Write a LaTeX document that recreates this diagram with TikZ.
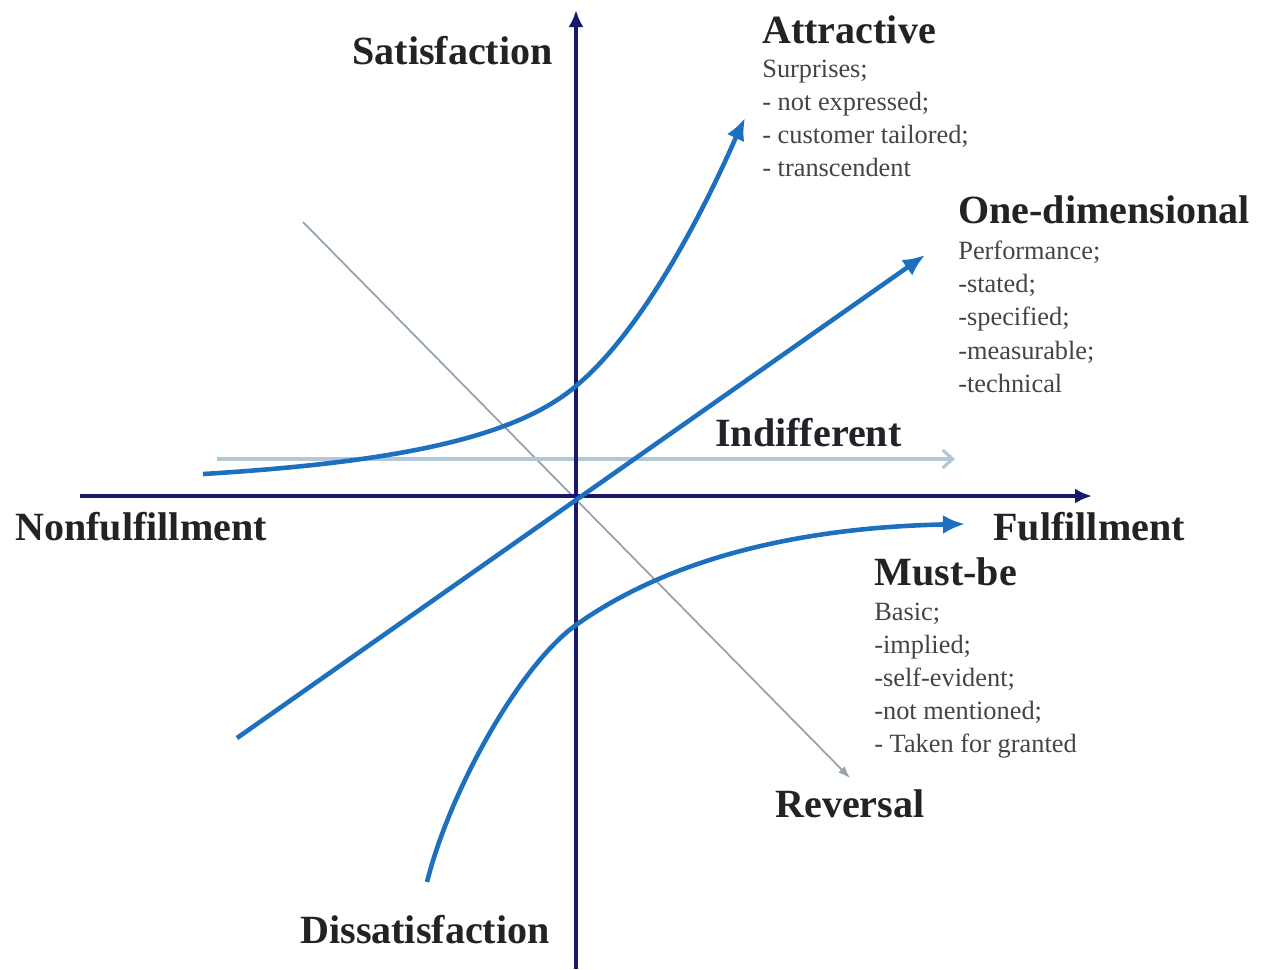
\documentclass[tikz,border=0pt]{standalone}
\usepackage{fontspec}
\setmainfont{Liberation Serif}
\usetikzlibrary{arrows.meta}
\definecolor{myNavy}{RGB}{24,24,110}
\definecolor{myBlue}{RGB}{28,112,190}
\definecolor{myPaleBlue}{RGB}{178,200,214}
\definecolor{myGray}{RGB}{150,162,172}
\definecolor{myText}{RGB}{35,35,35}

\begin{document}
\begin{tikzpicture}[%
    x=0.2mm, y=-0.2mm,
    every node/.style={
        inner sep=0pt,
        text=myText,
    },
    title/.style={font=\fontsize{22.8}{26}\selectfont\bfseries, anchor=base west},
    notes/.style={font=\fontsize{15}{18.8}\selectfont, align=left, anchor=north west, text=myText!85},
    axis/.style={myNavy, line width=2.8pt, -{Latex[length=3.4mm,width=3mm]}},
    curve/.style={myBlue, line width=2.6pt, -{Latex[length=4.4mm,width=3.8mm]}},
]
\useasboundingbox (0,0) rectangle (1271,969);

% end points of axes and curves
\coordinate (origin) at (576,496);
\coordinate (xStart) at (80,496);
\coordinate (xEnd) at (1092,496);
\coordinate (yStart) at (576,969);
\coordinate (yEnd) at (576,10);
\coordinate (atStart) at (203,474);
\coordinate (atMid) at (576,386);
\coordinate (atEnd) at (745,118);
\coordinate (odStart) at (237,738);
\coordinate (odEnd) at (925,255);
\coordinate (mbStart) at (427,882);
\coordinate (mbMid) at (576,625);
\coordinate (mbEnd) at (965,524);
\coordinate (inStart) at (217,459);
\coordinate (inEnd) at (955,459);
\coordinate (reStart) at (303,222);
\coordinate (reEnd) at (850,778);

% draw thin reference lines
\draw[myGray, line width=1pt, -{Latex[length=2.4mm,width=1.8mm]}] (reStart) -- (reEnd);
\draw[myPaleBlue, line width=1.8pt, -{Straight Barb[length=2mm,width=3.6mm]}] (inStart) -- (inEnd);

% draw axes
\draw[axis] (xStart) -- (xEnd);
\draw[axis] (yStart) -- (yEnd);

% draw the three curves
\draw[curve] (atStart) .. controls (400,462) and (516,437) .. (atMid)
    .. controls (660,316) and (730,150) .. (atEnd);
\draw[curve] (odStart) -- (odEnd);
\draw[curve] (mbStart) .. controls (450,790) and (520,665) .. (mbMid)
    .. controls (680,551) and (820,527) .. (mbEnd);

% place axis labels
\node[title] (satisfaction) at (352,64) {Satisfaction};
\node[title] (dissatisfaction) at (300,943) {Dissatisfaction};
\node[title] (nonfulfillment) at (15,540) {Nonfulfillment};
\node[title] (fulfillment) at (993,540) {Fulfillment};

% place category labels and their notes
\node[title] (attractive) at (762,43) {Attractive};
\node[notes] (attractiveNotes) at (762,60)
    {Surprises;\\- not expressed;\\- customer tailored;\\- transcendent};
\node[title] (oneDim) at (958,223) {One-dimensional};
\node[notes] (oneDimNotes) at (958,241)
    {Performance;\\-stated;\\-specified;\\-measurable;\\-technical};
\node[title, text=myText!90!myNavy] (indifferent) at (715,446) {Indifferent};
\node[title] (mustBe) at (874,585) {Must-be};
\node[notes] (mustBeNotes) at (874,603)
    {Basic;\\-implied;\\-self-evident;\\-not mentioned;\\- Taken for granted};
\node[title] (reversal) at (775,817) {Reversal};
\end{tikzpicture}
\end{document}
